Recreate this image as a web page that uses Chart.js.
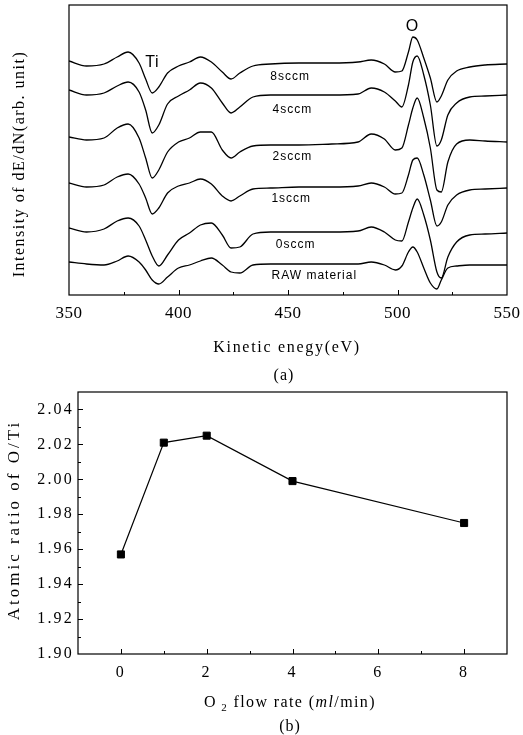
<!DOCTYPE html>
<html>
<head>
<title>AES spectra and O/Ti ratio</title>
<script src="https://cdn.jsdelivr.net/npm/chart.js"></script>
<style>
  body { margin: 0; background: #fff; }
  #wrap { position: relative; width: 523px; height: 735px; }
  canvas { position: absolute; left: 0; }
  #spectra { top: 0; }
  #ratio { top: 386px; }
</style>
</head>
<body>
<div id="wrap">
  <canvas id="spectra" width="523" height="386"></canvas>
  <canvas id="ratio" width="523" height="349"></canvas>
</div>

<script>
// (a) Auger spectra, intensity in arbitrary units
const energies = [350, 358, 366, 372, 377, 382, 385, 388, 391, 395, 400, 405, 410, 415, 420, 424, 428, 434, 442, 455,
                  470, 482, 488, 494, 499, 502, 505, 507, 509, 512, 515, 518, 520, 523, 527, 533, 540, 550];
const sampleNames = ['8sccm', '4sccm', '2sccm', '1sccm', '0sccm', 'RAW material'];
const spec8sccm = [239, 234, 236, 243, 248, 237, 221, 207, 213, 227, 234, 238, 243, 238, 228, 221, 227, 234, 236, 237,
                   237, 238, 240, 236, 228, 229, 248, 263, 260, 242, 222, 198, 204, 220, 229, 233, 235, 236];
const spec4sccm = [210, 205, 207, 214, 218, 208, 190, 167, 175, 196, 204, 210, 217, 212, 197, 187, 193, 203, 205, 205,
                   205, 206, 212, 208, 199, 193, 215, 238, 244, 225, 195, 154, 160, 185, 197, 203, 204, 205];
const spec2sccm = [163, 160, 162, 172, 176, 162, 142, 122, 130, 148, 158, 162, 168, 168, 150, 142, 148, 154, 155, 155,
                   156, 158, 166, 161, 150, 152, 175, 192, 202, 182, 152, 110, 108, 138, 156, 160, 159, 158];
const spec1sccm = [117, 113, 115, 123, 126, 116, 102, 86, 92, 107, 114, 117, 121, 116, 104, 99, 104, 111, 112, 113,
                   113, 114, 117, 113, 106, 107, 125, 140, 142, 125, 100, 74, 78, 95, 105, 110, 111, 112];
const spec0sccm = [72, 68, 71, 79, 82, 74, 60, 44, 34, 45, 60, 67, 75, 77, 65, 52, 53, 66, 68, 68,
                   68, 69, 73, 68, 60, 59, 78, 92, 101, 85, 60, 28, 22, 43, 58, 65, 66, 67];
const specRaw = [38, 36, 35, 39, 44, 38, 30, 20, 16, 23, 32, 35, 39, 42, 35, 28, 27, 35, 36, 36,
                 36, 36, 38, 35, 30, 34, 48, 53, 48, 32, 17, 11, 20, 32, 34, 35, 35, 35];
const energyTicks = [350, 400, 450, 500, 550];

// (b) O/Ti atomic ratio against O2 flow rate
const flowRates = [0, 1, 2, 4, 8];
const ratioOTi = [1.957, 2.021, 2.025, 1.999, 1.975];
const flowTicks = [0, 2, 4, 6, 8];
const ratioTicks = [1.90, 1.92, 1.94, 1.96, 1.98, 2.00, 2.02, 2.04];

const serif = '"Liberation Serif", "Times New Roman", serif';
const sans = '"Liberation Sans", Arial, sans-serif';

function drawText(ctx, text, x, y, font, spacing, angle) {
  ctx.save();
  ctx.font = font;
  ctx.letterSpacing = spacing + 'px';
  ctx.fillStyle = '#000';
  ctx.textAlign = 'center';
  ctx.textBaseline = 'middle';
  ctx.translate(x, y);
  if (angle) ctx.rotate(angle);
  ctx.fillText(text, 0, 0);
  ctx.restore();
}

function midpoints(list) {
  const out = [];
  for (let i = 1; i < list.length; i++) out.push((list[i - 1] + list[i]) / 2);
  return out;
}

// box round the plot plus inward tick marks
const frameTicks = {
  id: 'frameTicks',
  afterDraw(chart, args, opts) {
    const {ctx, chartArea: a, scales} = chart;
    ctx.save();
    ctx.letterSpacing = '0px';
    ctx.strokeStyle = '#000';
    ctx.lineWidth = 1.2;
    ctx.strokeRect(a.left, a.top, a.right - a.left, a.bottom - a.top);
    ctx.lineWidth = 1;
    ctx.beginPath();
    const mark = (scale, vals, len) => vals.forEach(v => {
      const p = Math.round(scale.getPixelForValue(v)) + 0.5;
      if (scale.isHorizontal()) {
        if (p <= a.left + 1 || p >= a.right - 1) return;
        ctx.moveTo(p, a.bottom);
        ctx.lineTo(p, a.bottom - len);
      } else {
        if (p <= a.top + 1 || p >= a.bottom - 1) return;
        ctx.moveTo(a.left, p);
        ctx.lineTo(a.left + len, p);
      }
    });
    const xMajor = scales.x.ticks.map(t => t.value);
    mark(scales.x, xMajor, 5);
    mark(scales.x, midpoints(xMajor), 3);
    if (opts.yTicks) {
      const yMajor = scales.y.ticks.map(t => t.value);
      mark(scales.y, yMajor, 5);
      mark(scales.y, midpoints(yMajor), 3);
    }
    ctx.stroke();
    ctx.restore();
  }
};

const tickSpacing = {
  id: 'tickSpacing',
  beforeDraw(chart, args, opts) {
    chart.ctx.letterSpacing = opts.px + 'px';
  }
};

const spectraText = {
  id: 'spectraText',
  afterDraw(chart) {
    const {ctx, scales: {x, y}} = chart;
    const spots = [[451, 223], [452, 190], [452, 143], [451.5, 101], [453.5, 55], [462, 24]];
    sampleNames.forEach((name, i) => {
      drawText(ctx, name, x.getPixelForValue(spots[i][0]), y.getPixelForValue(spots[i][1]), '12px ' + sans, 1, 0);
    });
    drawText(ctx, 'Ti', x.getPixelForValue(388), y.getPixelForValue(237), '16px ' + sans, 0.5, 0);
    drawText(ctx, 'O', x.getPixelForValue(506.6), y.getPixelForValue(273), '16px ' + sans, 0, 0);
    drawText(ctx, 'Intensity of dE/dN(arb. unit)', 20, 164, '16px ' + serif, 1.5, -Math.PI / 2);
    drawText(ctx, 'Kinetic enegy(eV)', 287, 348, '16px ' + serif, 1.7, 0);
    drawText(ctx, '(a)', 284, 376, '16px ' + serif, 1, 0);
  }
};

const ratioText = {
  id: 'ratioText',
  afterDraw(chart) {
    const ctx = chart.ctx;
    drawText(ctx, 'Atomic ratio of O/Ti', 15, 134, '17px ' + serif, 3, -Math.PI / 2);
    const parts = [
      ['O', '16px ' + serif, 0],
      [' 2', '11px ' + serif, 5],
      [' flow rate (', '16px ' + serif, 0],
      ['ml', 'italic 16px ' + serif, 0],
      ['/min)', '16px ' + serif, 0]
    ];
    ctx.save();
    ctx.letterSpacing = '1.4px';
    ctx.fillStyle = '#000';
    ctx.textAlign = 'left';
    ctx.textBaseline = 'middle';
    let total = 0;
    parts.forEach(p => { ctx.font = p[1]; total += ctx.measureText(p[0]).width; });
    let cx = 290 - total / 2;
    parts.forEach(p => {
      ctx.font = p[1];
      ctx.fillText(p[0], cx, 317 + p[2]);
      cx += ctx.measureText(p[0]).width;
    });
    ctx.restore();
    drawText(ctx, '(b)', 290, 341, '16px ' + serif, 1, 0);
  }
};

function noPad(scale) {
  scale.paddingLeft = 0;
  scale.paddingRight = 0;
  scale.paddingTop = 0;
  scale.paddingBottom = 0;
}

const traces = [spec8sccm, spec4sccm, spec2sccm, spec1sccm, spec0sccm, specRaw];

new Chart(document.getElementById('spectra'), {
  type: 'line',
  data: {
    datasets: traces.map((vals, i) => ({
      label: sampleNames[i],
      data: energies.map((e, j) => ({x: e, y: vals[j]})),
      borderColor: '#000',
      borderWidth: 1.3,
      pointRadius: 0,
      fill: false,
      cubicInterpolationMode: 'monotone'
    }))
  },
  options: {
    responsive: false,
    animation: false,
    layout: {padding: {top: 5, right: 16, left: 0, bottom: 0}},
    plugins: {
      legend: {display: false},
      tooltip: {enabled: false},
      tickSpacing: {px: 0.5},
      frameTicks: {yTicks: false}
    },
    scales: {
      x: {
        type: 'linear',
        min: 350,
        max: 550,
        afterBuildTicks: s => { s.ticks = energyTicks.map(v => ({value: v})); },
        afterFit: s => { s.height = 91; noPad(s); },
        grid: {display: false, drawTicks: false},
        border: {display: false},
        ticks: {color: '#000', font: {family: serif, size: 17}, padding: 8, maxRotation: 0}
      },
      y: {
        min: 5,
        max: 295,
        afterFit: s => { s.width = 69; noPad(s); },
        grid: {display: false, drawTicks: false},
        border: {display: false},
        ticks: {display: false}
      }
    }
  },
  plugins: [tickSpacing, frameTicks, spectraText]
});

new Chart(document.getElementById('ratio'), {
  type: 'line',
  data: {
    datasets: [{
      label: 'O/Ti',
      data: flowRates.map((f, i) => ({x: f, y: ratioOTi[i]})),
      borderColor: '#000',
      borderWidth: 1.2,
      backgroundColor: '#000',
      pointStyle: 'rect',
      pointRadius: 5,
      pointBorderWidth: 1,
      tension: 0
    }]
  },
  options: {
    responsive: false,
    animation: false,
    layout: {padding: {top: 2, right: 16, left: 0, bottom: 0}},
    plugins: {
      legend: {display: false},
      tooltip: {enabled: false},
      tickSpacing: {px: 2.2},
      frameTicks: {yTicks: true}
    },
    scales: {
      x: {
        type: 'linear',
        min: -1,
        max: 9,
        afterBuildTicks: s => { s.ticks = flowTicks.map(v => ({value: v})); },
        afterFit: s => { s.height = 81; noPad(s); },
        grid: {display: false, drawTicks: false},
        border: {display: false},
        ticks: {color: '#000', font: {family: serif, size: 16}, padding: 9, maxRotation: 0}
      },
      y: {
        min: 1.90,
        max: 2.05,
        afterBuildTicks: s => { s.ticks = ratioTicks.map(v => ({value: v})); },
        afterFit: s => { s.width = 78; noPad(s); },
        grid: {display: false, drawTicks: false},
        border: {display: false},
        ticks: {color: '#000', font: {family: serif, size: 16}, padding: 4, callback: v => v.toFixed(2)}
      }
    }
  },
  plugins: [tickSpacing, frameTicks, ratioText]
});
</script>
</body>
</html>
